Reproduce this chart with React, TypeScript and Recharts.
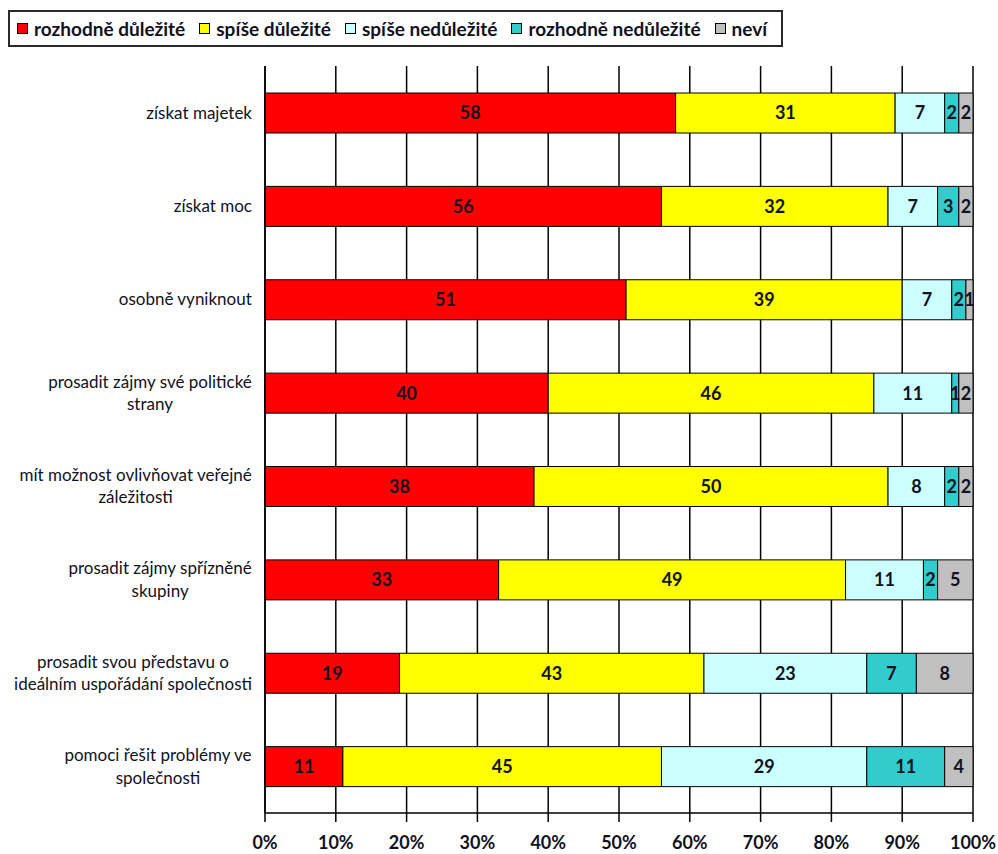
import React from 'react';
import { BarChart, Bar, XAxis, YAxis, CartesianGrid, LabelList } from 'recharts';

const categories = [
  'získat majetek',
  'získat moc',
  'osobně vyniknout',
  'prosadit zájmy své politické\nstrany',
  'mít možnost ovlivňovat veřejné\nzáležitosti',
  'prosadit zájmy spřízněné\nskupiny',
  'prosadit svou představu o\nideálním uspořádání společnosti',
  'pomoci řešit problémy ve\nspolečnosti',
];
const seriesNames = ['rozhodně důležité', 'spíše důležité', 'spíše nedůležité', 'rozhodně nedůležité', 'neví'];
const rozhodneDulezite = [58, 56, 51, 40, 38, 33, 19, 11];
const spiseDulezite = [31, 32, 39, 46, 50, 49, 43, 45];
const spiseNedulezite = [7, 7, 7, 11, 8, 11, 23, 29];
const rozhodneNedulezite = [2, 3, 2, 1, 2, 2, 7, 11];
const nevi = [2, 2, 1, 2, 2, 5, 8, 4];
const xTicks = [0, 10, 20, 30, 40, 50, 60, 70, 80, 90, 100];
const boundaryTicks = [0, 1, 2, 3, 4, 5, 6, 7, 8];
const colors = ['#FF0000', '#FFFF00', '#CCFFFF', '#33CCCC', '#C0C0C0'];

const seriesValues = [rozhodneDulezite, spiseDulezite, spiseNedulezite, rozhodneNedulezite, nevi];
const keys = ['s0', 's1', 's2', 's3', 's4'];

const data = categories.map((name, i) => {
  const row: any = { name };
  keys.forEach((k, j) => {
    row[k] = seriesValues[j][i];
  });
  return row;
});

const FONT = "Lato, 'Open Sans', sans-serif";
const TEXT = '#111122';
const CAT_SIZE = 17;
const CAT_FONT = `${CAT_SIZE}px Lato`;

let ctx: CanvasRenderingContext2D | null = null;
function measure(text: string, font: string): number {
  if (!ctx) ctx = document.createElement('canvas').getContext('2d');
  if (!ctx) return text.length * 7;
  ctx.font = font;
  return ctx.measureText(text).width;
}

const CategoryTick = (props: any) => {
  const { x, y, payload } = props;
  const lines = String(payload.value).split('\n');
  const block = Math.max(...lines.map((l) => measure(l, CAT_FONT)));
  const cx = x - block / 2;
  const lh = 22.5;
  const startY = y - ((lines.length - 1) * lh) / 2;
  return (
    <text textAnchor="middle" fontSize={CAT_SIZE} fontFamily={FONT} fill={TEXT}>
      {lines.map((l, i) => (
        <tspan key={i} x={cx} y={startY + i * lh} dy="0.35em">
          {l}
        </tspan>
      ))}
    </text>
  );
};

const XTick = (props: any) => {
  const { x, y, payload } = props;
  return (
    <text
      x={x}
      y={y}
      textAnchor="middle"
      fontFamily={FONT}
      fontWeight={700}
      fontSize={18}
      fill={TEXT}
      dy="0.71em"
    >
      {`${payload.value}%`}
    </text>
  );
};

const Legend = () => (
  <div
    style={{
      position: 'absolute',
      left: 8,
      top: 10,
      width: 775,
      height: 37,
      boxSizing: 'border-box',
      border: '2px solid #2a2a2a',
      display: 'flex',
      alignItems: 'center',
      paddingLeft: 7,
      fontFamily: FONT,
      fontWeight: 700,
      fontSize: 19,
      color: TEXT,
      background: '#fff',
      whiteSpace: 'nowrap',
    }}
  >
    {seriesNames.map((n, i) => (
      <div key={n} style={{ display: 'flex', alignItems: 'center', marginRight: 14 }}>
        <div
          style={{
            width: 9,
            height: 9,
            background: colors[i],
            border: '1.5px solid #000',
            marginRight: 6,
          }}
        />
        <span>{n}</span>
      </div>
    ))}
  </div>
);

export default function App() {
  return (
    <div style={{ position: 'absolute', left: 0, top: 0, width: 998, height: 854, background: '#fff' }}>
      <BarChart
        width={998}
        height={854}
        data={data}
        layout="vertical"
        margin={{ top: 66, right: 25, bottom: 0, left: 0 }}
        barSize={40}
      >
        <CartesianGrid horizontal={false} vertical={true} stroke="#000" strokeWidth={1.5} />
        <XAxis
          type="number"
          domain={[0, 100]}
          ticks={xTicks}
          interval={0}
          tickSize={9}
          tickMargin={14}
          height={41}
          axisLine={{ stroke: '#000', strokeWidth: 1.5 }}
          tickLine={{ stroke: '#000', strokeWidth: 1.5 }}
          tick={<XTick />}
        />
        <YAxis
          yAxisId="zcat"
          type="category"
          dataKey="name"
          width={260}
          axisLine={false}
          tickLine={false}
          tickSize={0}
          tickMargin={8}
          interval={0}
          tick={<CategoryTick />}
        />
        <YAxis
          yAxisId="aticks"
          type="number"
          domain={[0, 8]}
          ticks={boundaryTicks}
          interval={0}
          tick={false}
          tickSize={5}
          width={5}
          axisLine={{ stroke: '#000', strokeWidth: 1.5 }}
          tickLine={{ stroke: '#000', strokeWidth: 1.5 }}
        />
        {keys.map((k, i) => (
          <Bar
            key={k}
            dataKey={k}
            name={seriesNames[i]}
            stackId="a"
            yAxisId="zcat"
            fill={colors[i]}
            stroke="#000"
            strokeWidth={1}
            isAnimationActive={false}
          >
            <LabelList
              dataKey={k}
              position="center"
              fill={TEXT}
              fontFamily={FONT}
              fontWeight={700}
              fontSize={18}
            />
          </Bar>
        ))}
      </BarChart>
      <Legend />
    </div>
  );
}
